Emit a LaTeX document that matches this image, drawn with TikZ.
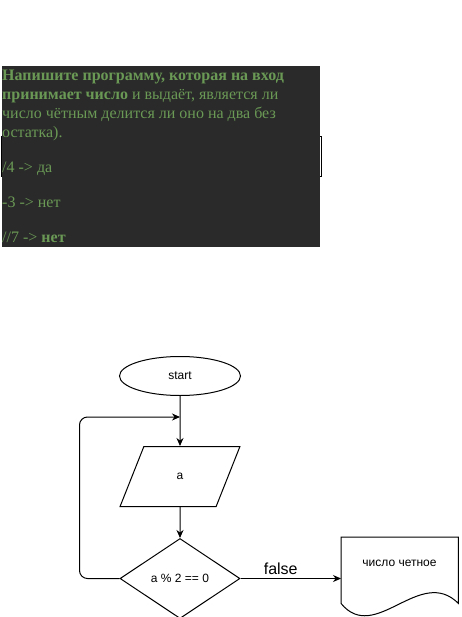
\documentclass[tikz,border=0pt]{standalone}
\usepackage{fontspec}
\setmainfont{Liberation Serif}
\newfontfamily\flowfont{Liberation Sans}
\usetikzlibrary{arrows.meta,shapes.geometric,positioning}
\definecolor{taskbg}{HTML}{2A2A2A}
\definecolor{taskgreen}{HTML}{6A9955}
\tikzstyle{line} = [draw, line width=1pt, -{Stealth[length=8pt,width=7pt]}]
\tikzstyle{task} = [color=taskgreen, anchor=base west, inner sep=0pt, font=\fontsize{16}{19}\selectfont]
\tikzstyle{block} = [draw, line width=1pt, font=\flowfont\fontsize{12}{14}\selectfont, inner sep=2pt]

\begin{document}
\begin{tikzpicture}[x=1pt,y=-1pt]
    \useasboundingbox (0,0) rectangle (461,617);
    % task text
    \draw (1,136) rectangle (321,176);
    \fill [taskbg] (2,66) rectangle (320,247);
    \node [task] (l1) at (2,81) {\textbf{Напишите программу, которая на вход}};
    \node [task] (l2) at (2,100) {\textbf{принимает число} и выдаёт, является ли};
    \node [task] (l3) at (2,119) {число чётным делится ли оно на два без};
    \node [task] (l4) at (2,138) {остатка).};
    \node [task] (e1) at (2,173) {/4 -> да};
    \node [task] (e2) at (2,208) {-3 -> нет};
    \node [task] (e3) at (2,243) {//7 -> \textbf{нет}};
    % flowchart
    \node [block, ellipse, minimum width=121pt, minimum height=39pt] (start) at (180,376) {start};
    \node [block, trapezium, trapezium left angle=71.6, trapezium right angle=108.4,
           trapezium stretches=true, minimum width=120pt, minimum height=60pt,
           below = 50pt of start] (input) {a};
    \node [block, diamond, aspect=1.5, minimum width=120pt, minimum height=80pt,
           below = 31pt of input] (cond) {a \% 2 == 0};
    \node [minimum width=117pt, minimum height=66pt, inner sep=0pt, anchor=north west] (doc) at (341,537) {};
    \draw [line width=1pt] (doc.south west) -- (doc.north west) -- (doc.north east) -- (doc.south east)
        .. controls (420,565) and (375,645) .. (doc.south west);
    \node [font=\flowfont\fontsize{12}{14}\selectfont] (doclbl) at (399.5,563) {число четное};
    \coordinate (merge) at (180,417);
    \draw [line] (start) -- (input);
    \draw [line] (input) -- (cond);
    \draw [line, rounded corners=8pt] (cond.west) -- ++(-40,0) |- (merge);
    \draw [line] (cond.east) -- (cond.east -| doc.west)
        node [pos=0.4, above, font=\flowfont\fontsize{16}{19}\selectfont] {false};
\end{tikzpicture}
\end{document}
